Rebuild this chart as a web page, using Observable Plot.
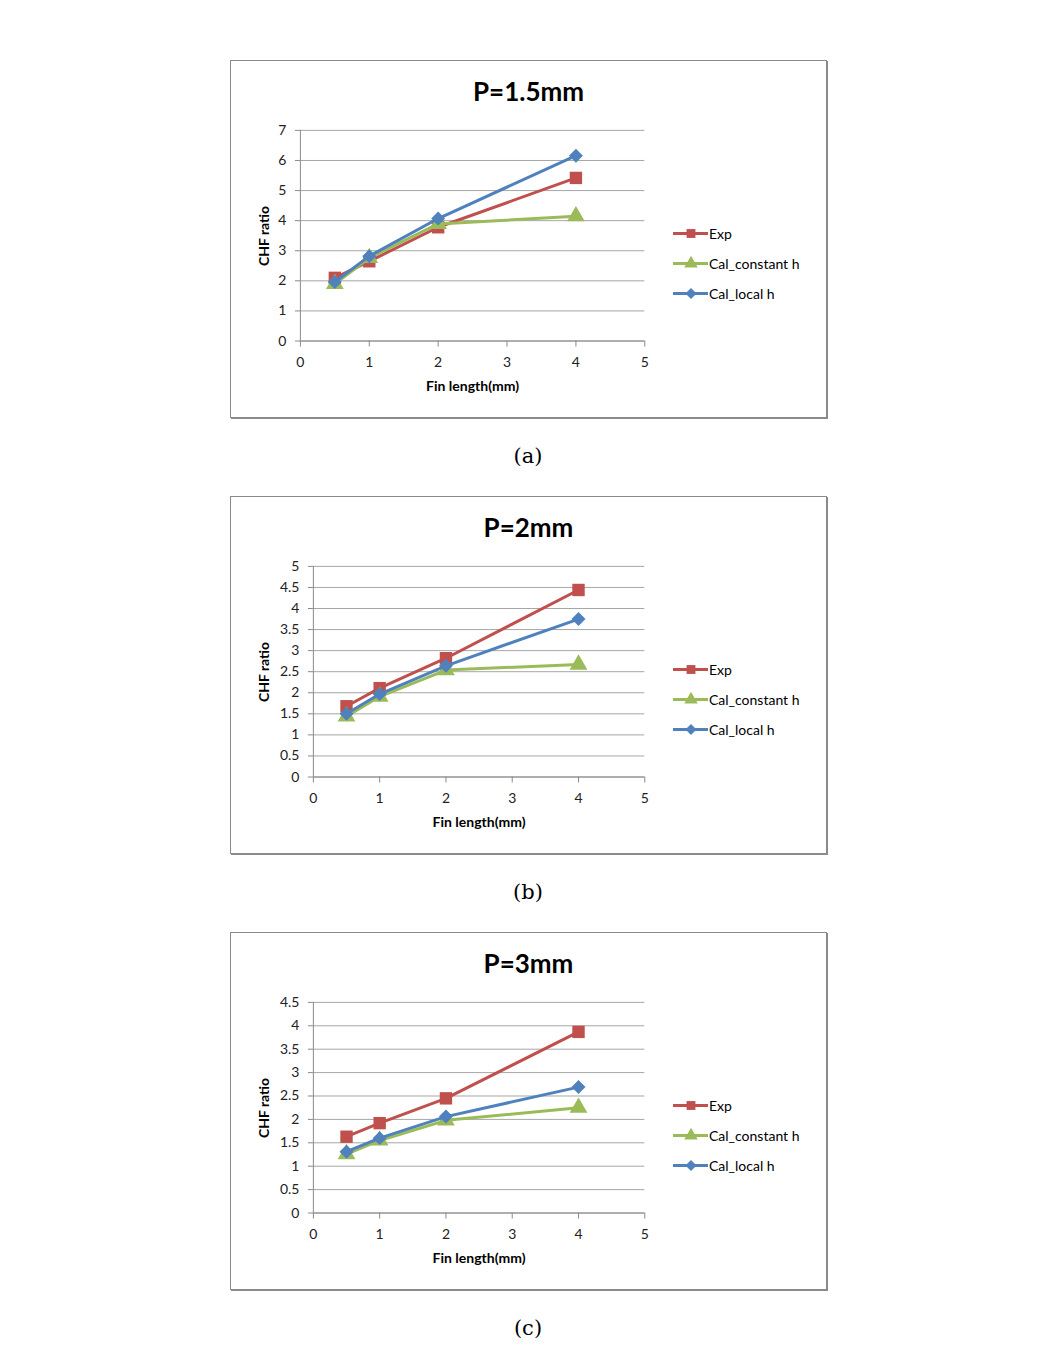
<!DOCTYPE html>
<html><head><meta charset="utf-8">
<script src="https://cdn.jsdelivr.net/npm/d3@7"></script>
<script src="https://cdn.jsdelivr.net/npm/@observablehq/plot@0.6"></script>
<style>
body{margin:0;background:#fff;width:1064px;height:1351px;position:relative;font-family:Lato,"Open Sans",sans-serif;overflow:hidden}
.panel{position:absolute;left:230px;width:595px;height:356px;border:1px solid #8a8a8a;box-shadow:1px 1px 0 #8a8a8a;background:#fff}
.panel svg.chart{position:absolute;left:0;top:0}
.title{position:absolute;left:0;width:100%;text-align:center;top:14px;font-weight:bold;font-size:26px;color:#000}
.ylab{position:absolute;left:32px;top:175px;transform:translate(-50%,-50%) rotate(-90deg);font-weight:bold;font-size:14px;white-space:nowrap}
.xlab{position:absolute;top:324px;transform:translate(-50%,-50%);font-weight:bold;font-size:14px;white-space:nowrap}
.legend{position:absolute;left:442px;top:157px}
.legend .item{height:30px;display:flex;align-items:center;font-size:14px;white-space:nowrap}
.legend svg{margin-right:1px}
.cap{position:absolute;left:0;width:1056px;text-align:center;font-family:"DejaVu Serif","Liberation Serif",serif;font-size:21px}
</style></head>
<body>
<script>
// ---- data ----
const finLength = [0.5, 1, 2, 4];
const xTicks = [0, 1, 2, 3, 4, 5];
const seriesNames = ["Exp", "Cal_constant h", "Cal_local h"];
const seriesColors = ["#C0504D", "#9BBB59", "#4F81BD"];
const seriesSymbols = ["square", "triangle", "diamond2"];

const titles = ["P=1.5mm", "P=2mm", "P=3mm"];
const captions = ["(a)", "(b)", "(c)"];

const expA = [2.10, 2.65, 3.78, 5.42];
const constA = [1.90, 2.76, 3.89, 4.15];
const localA = [1.96, 2.82, 4.07, 6.16];

const expB = [1.68, 2.11, 2.82, 4.44];
const constB = [1.44, 1.91, 2.54, 2.67];
const localB = [1.50, 1.97, 2.64, 3.75];

const expC = [1.63, 1.92, 2.45, 3.87];
const constC = [1.26, 1.55, 1.98, 2.25];
const localC = [1.31, 1.60, 2.06, 2.69];

const yTicksA = [0, 1, 2, 3, 4, 5, 6, 7];
const yTicksB = [0, 0.5, 1, 1.5, 2, 2.5, 3, 3.5, 4, 4.5, 5];
const yTicksC = [0, 0.5, 1, 1.5, 2, 2.5, 3, 3.5, 4, 4.5];

const panels = [
  {series: [expA, constA, localA], yTicks: yTicksA, top: 60, marginLeft: 69},
  {series: [expB, constB, localB], yTicks: yTicksB, top: 496, marginLeft: 82},
  {series: [expC, constC, localC], yTicks: yTicksC, top: 932, marginLeft: 82}
];

const W = 596, H = 357;
panels.forEach((p, k) => {
  const div = document.createElement("div");
  div.className = "panel";
  div.style.top = p.top + "px";
  document.body.appendChild(div);

  const marks = [
    Plot.gridY(p.yTicks, {stroke: "#a6a6a6", strokeOpacity: 1}),
    Plot.ruleX([0], {stroke: "#8a8a8a"}),
    Plot.ruleY([0], {stroke: "#8a8a8a"}),
    Plot.axisY(p.yTicks, {label: null, tickSize: 5, tickPadding: 9, stroke: "#8a8a8a", fill: "#222", tickFormat: d => String(d)}),
    Plot.axisX(xTicks, {label: null, tickSize: 6, tickPadding: 10, stroke: "#8a8a8a", fill: "#222", tickFormat: d => String(d)})
  ];
  p.series.forEach((vals, i) => {
    const rows = finLength.map((f, j) => ({x: f, y: vals[j]}));
    marks.push(Plot.line(rows, {x: "x", y: "y", stroke: seriesColors[i], strokeWidth: 3}));
    marks.push(Plot.dot(rows, {x: "x", y: "y", fill: seriesColors[i], stroke: "none", symbol: seriesSymbols[i], r: i === 1 ? 6.6 : (i === 0 ? 7 : 6.3)}));
  });

  const chart = Plot.plot({
    width: W, height: H,
    marginLeft: p.marginLeft, marginRight: 182, marginTop: 69, marginBottom: 77,
    x: {domain: [0, 5], axis: null},
    y: {domain: [0, p.yTicks[p.yTicks.length - 1]], axis: null},
    style: {fontFamily: "Lato, 'Open Sans', sans-serif", fontSize: "14px", background: "transparent", overflow: "visible"},
    marks
  });
  chart.classList.add("chart");
  div.appendChild(chart);

  const t = document.createElement("div");
  t.className = "title"; t.textContent = titles[k];
  div.appendChild(t);

  const yl = document.createElement("div");
  yl.className = "ylab"; yl.textContent = "CHF ratio";
  div.appendChild(yl);

  const xl = document.createElement("div");
  xl.className = "xlab"; xl.textContent = "Fin length(mm)";
  xl.style.left = ((p.marginLeft + (W - 182)) / 2) + "px";
  div.appendChild(xl);

  const lg = document.createElement("div");
  lg.className = "legend";
  seriesNames.forEach((name, i) => {
    const item = document.createElement("div");
    item.className = "item";
    const sw = Plot.plot({
      width: 35, height: 14, margin: 0,
      x: {domain: [0, 1], axis: null}, y: {domain: [0, 1], axis: null},
      style: {background: "transparent", overflow: "visible"},
      marks: [
        Plot.ruleY([0.5], {x1: 0, x2: 1, stroke: seriesColors[i], strokeWidth: 3}),
        Plot.dot([{x: 0.5, y: 0.5}], {x: "x", y: "y", fill: seriesColors[i], symbol: seriesSymbols[i], r: 5})
      ]
    });
    item.appendChild(sw);
    const s = document.createElement("span");
    s.textContent = name;
    item.appendChild(s);
    lg.appendChild(item);
  });
  div.appendChild(lg);

  const c = document.createElement("div");
  c.className = "cap"; c.textContent = captions[k];
  c.style.top = (p.top + 384) + "px";
  document.body.appendChild(c);
});
</script>
</body></html>
